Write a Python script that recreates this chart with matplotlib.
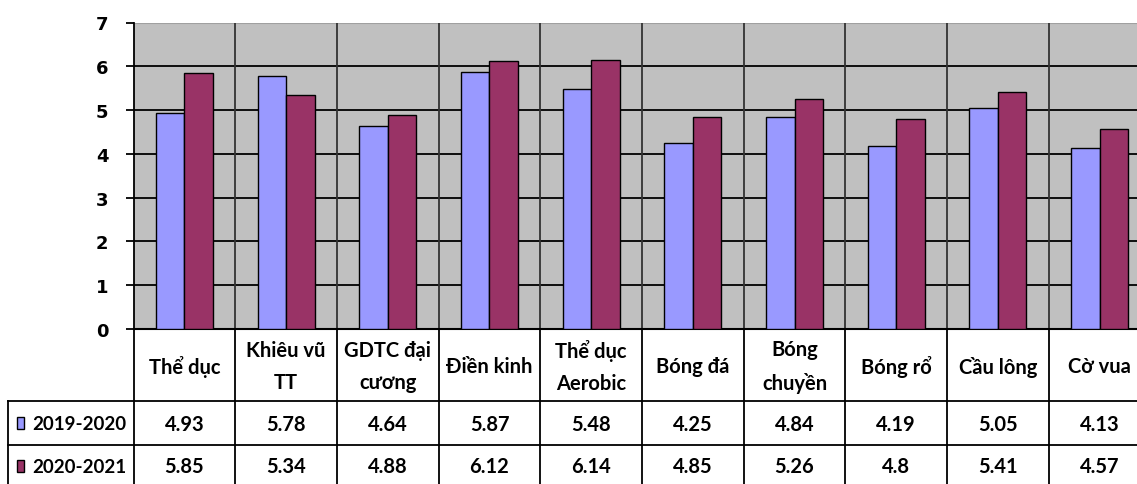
import matplotlib
matplotlib.use("Agg")
import matplotlib.pyplot as plt
from matplotlib.patches import Rectangle
import numpy as np

categories = ["Thể dục", "Khiêu vũ\nTT", "GDTC đại\ncương", "Điền kinh",
              "Thể dục\nAerobic", "Bóng đá", "Bóng\nchuyền", "Bóng rổ",
              "Cầu lông", "Cờ vua"]
series_names = ["2019-2020", "2020-2021"]
values_2019 = [4.93, 5.78, 4.64, 5.87, 5.48, 4.25, 4.84, 4.19, 5.05, 4.13]
values_2020 = [5.85, 5.34, 4.88, 6.12, 6.14, 4.85, 5.26, 4.8, 5.41, 4.57]
value_labels_2019 = ["4.93", "5.78", "4.64", "5.87", "5.48", "4.25", "4.84", "4.19", "5.05", "4.13"]
value_labels_2020 = ["5.85", "5.34", "4.88", "6.12", "6.14", "4.85", "5.26", "4.8", "5.41", "4.57"]
y_ticks = [0, 1, 2, 3, 4, 5, 6, 7]

BLUE = "#9999FF"
RED = "#993366"
GREY = "#C0C0C0"
TFONT = ["Lato", "Noto Sans", "DejaVu Sans"]

W, H = 1137, 485
fig = plt.figure(figsize=(W / 100, H / 100), dpi=100)

# plot area geometry in pixels
left_px, cell_px = 133.5, 101.7
top_px, zero_px = 23.5, 330.0
n = len(categories)
ax_w = n * cell_px / W

ax = fig.add_axes([left_px / W, (H - zero_px) / H, ax_w, (zero_px - top_px) / H])
ax.set_facecolor(GREY)
ax.set_xlim(0, n)
ax.set_ylim(0, 7)

x = np.arange(n)
bw = 0.28
ax.bar(x + 0.5 - bw / 2, values_2019, width=bw, color=BLUE, edgecolor="black",
       linewidth=1.0, zorder=3)
ax.bar(x + 0.5 + bw / 2, values_2020, width=bw, color=RED, edgecolor="black",
       linewidth=1.0, zorder=3)

for yv in y_ticks[1:-1]:
    ax.axhline(yv, color="black", lw=1.3, zorder=1)
ax.axhline(y_ticks[-1], color="#A0A0A0", lw=1.5, zorder=1)
for k in range(1, n + 1):
    ax.axvline(k, color="#333333", lw=1.3, zorder=1)

ax.set_yticks(y_ticks)
ax.set_yticklabels([str(t) for t in y_ticks], fontsize=13, fontweight="bold",
                   family="DejaVu Sans")
ax.tick_params(axis="y", length=6, width=1.3, pad=12, color="black")
ax.set_xticks([])
for side in ["top", "right"]:
    ax.spines[side].set_visible(False)
ax.spines["left"].set_linewidth(1.3)
ax.spines["bottom"].set_linewidth(1.5)

# data table below the plot
tab = fig.add_axes([left_px / W, 0, ax_w, (H - zero_px) / H])
tab.set_xlim(0, n)
tab.set_ylim(H, zero_px)
tab.axis("off")

row1_top, row2_top = 402, 446
x_left = (8 - left_px) / cell_px
lkw = dict(color="black", lw=1.3, clip_on=False)
tab.plot([x_left, n], [row1_top, row1_top], **lkw)
tab.plot([x_left, n], [row2_top, row2_top], **lkw)
tab.plot([x_left, x_left], [row1_top, H], **lkw)
for k in range(0, n + 1):
    tab.plot([k, k], [zero_px, H], **lkw)

fs = 14.5
for i, lab in enumerate(categories):
    tab.text(i + 0.5, (zero_px + row1_top) / 2 + 1, lab, ha="center", va="center",
             fontsize=fs, fontweight="bold", family=TFONT, linespacing=1.8)
    tab.text(i + 0.5, (row1_top + row2_top) / 2 + 1, value_labels_2019[i],
             ha="center", va="center", fontsize=fs, fontweight="bold", family=TFONT)
    tab.text(i + 0.5, row2_top + 21, value_labels_2020[i],
             ha="center", va="center", fontsize=fs, fontweight="bold", family=TFONT)

# legend keys in the first column
sw_x0 = (17 - left_px) / cell_px
sw_w = 7 / cell_px
txt_x = (32 - left_px) / cell_px
for yc, col, name in [((row1_top + row2_top) / 2, BLUE, series_names[0]),
                      (row2_top + 21, RED, series_names[1])]:
    tab.add_patch(Rectangle((sw_x0, yc - 6), sw_w, 12, facecolor=col,
                            edgecolor="black", lw=1.0, clip_on=False))
    tab.text(txt_x, yc + 1, name, ha="left", va="center", fontsize=13.5,
             fontweight="bold", family=TFONT, clip_on=False)

fig.savefig("out.png", dpi=100)
